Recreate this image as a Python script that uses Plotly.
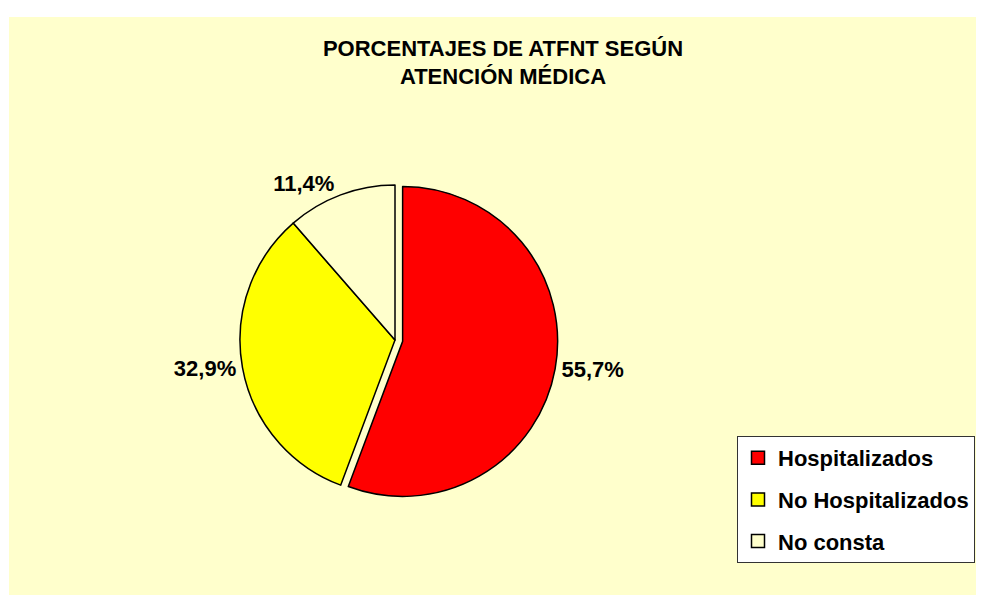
import plotly.graph_objects as go

# Data
labels = ["Hospitalizados", "No Hospitalizados", "No consta"]
values = [55.7, 32.9, 11.4]
colors = ["#FF0000", "#FFFF00", "#FFFFCC"]
pulls = [0.05, 0, 0]
title_text = "PORCENTAJES DE ATFNT SEGÚN<br>ATENCIÓN MÉDICA"

# figure size (page is offset by the 8px body margin)
W, H = 976, 587
FONT = "Liberation Sans, Arial, sans-serif"

# pie box in figure pixels (unexploded centre 387,332; radius 155)
cx, cy, half = 387, 332, 162.75

fig = go.Figure()

fig.add_trace(go.Pie(
    labels=labels,
    values=values,
    sort=False,
    direction="clockwise",
    rotation=0,
    pull=pulls,
    marker=dict(colors=colors, line=dict(color="#000000", width=1.5)),
    texttemplate="%{value:.1f}%",
    textposition="outside",
    textfont=dict(family=FONT, size=22, color="#000000", weight="bold"),
    showlegend=False,
    hoverinfo="label+percent",
    domain=dict(x=[(cx - half) / W, (cx + half) / W],
                y=[(H - cy - half) / H, (H - cy + half) / H]),
))

# Legend entries (one per slice, same labels and colours)
for lab, col in zip(labels, colors):
    fig.add_trace(go.Scatter(
        x=[None], y=[None], mode="markers", name=lab, legendgroup=lab,
        marker=dict(symbol="square", size=13, color=col,
                    line=dict(color="#000000", width=1.5)),
        hoverinfo="skip",
    ))

fig.update_layout(
    width=W, height=H,
    margin=dict(l=0, r=0, t=0, b=0, autoexpand=False),
    paper_bgcolor="#FFFFFF",
    plot_bgcolor="rgba(0,0,0,0)",
    separators=",.",
    xaxis=dict(visible=False),
    yaxis=dict(visible=False),
    title=dict(
        text=title_text,
        x=495 / W, xref="container", xanchor="center",
        y=1 - 47.5 / H, yref="container", yanchor="top",
        font=dict(family=FONT, size=22, color="#000000", weight="bold"),
    ),
    legend=dict(
        x=729 / W, xref="container", xanchor="left",
        y=1 - 428 / H, yref="container", yanchor="top",
        bgcolor="#FFFFFF", bordercolor="#333333", borderwidth=1,
        font=dict(family=FONT, size=22, color="#000000", weight="bold"),
        tracegroupgap=10,
        itemclick=False, itemdoubleclick=False,
    ),
    shapes=[dict(
        type="rect", xref="paper", yref="paper",
        x0=1 / W, x1=1.05, y0=-0.05, y1=1 - 9 / H,
        fillcolor="#FFFFCC", line=dict(width=0), layer="below",
    )],
)

fig.write_html("out.html")
